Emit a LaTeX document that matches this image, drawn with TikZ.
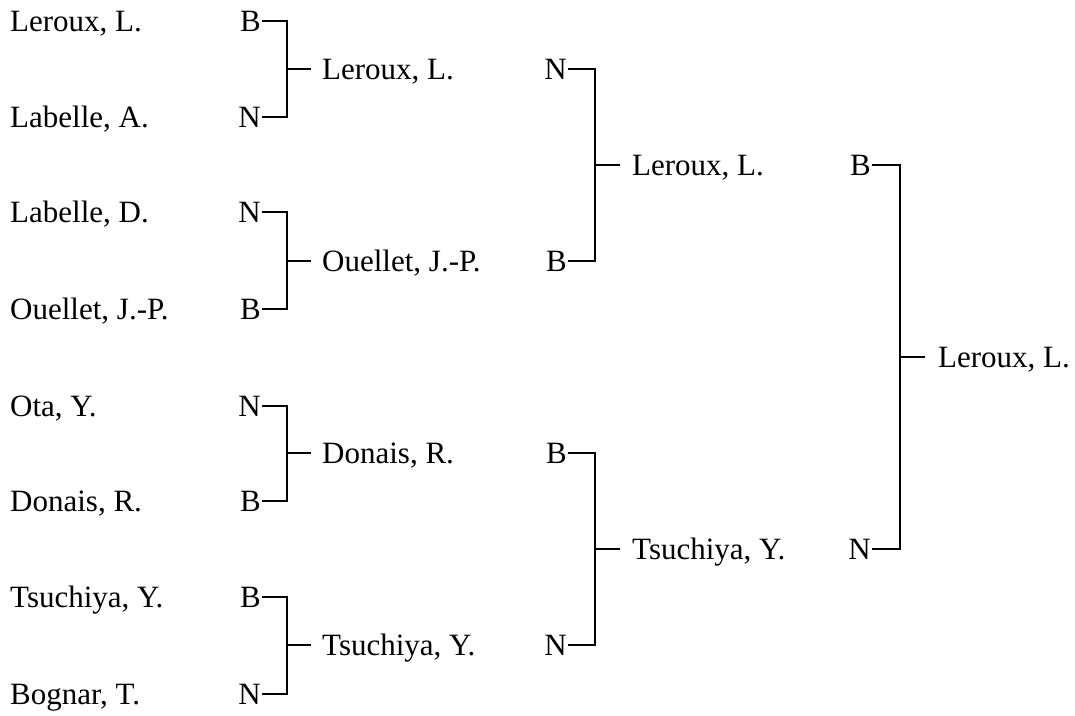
\documentclass[tikz,border=0pt]{standalone}
\usepackage{fontspec}
\setmainfont{LiberationSerif}[Extension=.ttf, UprightFont=*-Regular, BoldFont=*-Bold]
\newcommand{\bfs}{\fontsize{31}{37}\selectfont}
\begin{document}
\begin{tikzpicture}[x=1pt,y=-1pt,
  nm/.style={anchor=base west, inner sep=0pt, font=\bfs},
  lt/.style={anchor=east, inner sep=0pt, font=\bfs},
  ln/.style={line width=1.6pt, line cap=butt, line join=miter}]
\useasboundingbox (0,0) rectangle (1075,715);
% Round 1
\node[nm] (n1) at (10,31.3) {Leroux, L.};
\node[nm] (n2) at (10,127.3) {Labelle, A.};
\node[nm] (n3) at (10,222.3) {Labelle, D.};
\node[nm] (n4) at (10,319.3) {Ouellet, J.-P.};
\node[nm] (n5) at (10,416.3) {Ota, Y.};
\node[nm] (n6) at (10,511.3) {Donais, R.};
\node[nm] (n7) at (10,607.3) {Tsuchiya, Y.};
\node[nm] (n8) at (10,704.3) {Bognar, T.};
\node[lt] (a1) at (261,21) {B};
\node[lt] (a2) at (261,117) {N};
\node[lt] (a3) at (261,212) {N};
\node[lt] (a4) at (261,309) {B};
\node[lt] (a5) at (261,406) {N};
\node[lt] (a6) at (261,501) {B};
\node[lt] (a7) at (261,597) {B};
\node[lt] (a8) at (261,694) {N};
\coordinate (j1) at (287,69);
\coordinate (j2) at (287,261);
\coordinate (j3) at (287,453);
\coordinate (j4) at (287,645);
\coordinate (t1) at (311,69);
\coordinate (t2) at (311,261);
\coordinate (t3) at (311,453);
\coordinate (t4) at (311,645);
\draw[ln] ([xshift=1pt]a1.east) -| (j1) |- ([xshift=1pt]a2.east);
\draw[ln] ([xshift=1pt]a3.east) -| (j2) |- ([xshift=1pt]a4.east);
\draw[ln] ([xshift=1pt]a5.east) -| (j3) |- ([xshift=1pt]a6.east);
\draw[ln] ([xshift=1pt]a7.east) -| (j4) |- ([xshift=1pt]a8.east);
\draw[ln] (j1) -- (t1);
\draw[ln] (j2) -- (t2);
\draw[ln] (j3) -- (t3);
\draw[ln] (j4) -- (t4);
% Round 2
\node[nm] (m1) at (322,79.3) {Leroux, L.};
\node[nm] (m2) at (322,271.3) {Ouellet, J.-P.};
\node[nm] (m3) at (322,463.3) {Donais, R.};
\node[nm] (m4) at (322,655.3) {Tsuchiya, Y.};
\node[lt] (b1) at (567,69) {N};
\node[lt] (b2) at (567,261) {B};
\node[lt] (b3) at (567,453) {B};
\node[lt] (b4) at (567,645) {N};
\coordinate (k1) at (595,165);
\coordinate (k2) at (595,549);
\coordinate (u1) at (620,165);
\coordinate (u2) at (620,549);
\draw[ln] ([xshift=1pt]b1.east) -| (k1) |- ([xshift=1pt]b2.east);
\draw[ln] ([xshift=1pt]b3.east) -| (k2) |- ([xshift=1pt]b4.east);
\draw[ln] (k1) -- (u1);
\draw[ln] (k2) -- (u2);
% Round 3
\node[nm] (p1) at (632,175.3) {Leroux, L.};
\node[nm] (p2) at (632,559.3) {Tsuchiya, Y.};
\node[lt] (c1) at (871,165) {B};
\node[lt] (c2) at (871,549) {N};
\coordinate (f1) at (900,357);
\coordinate (v1) at (925,357);
\draw[ln] ([xshift=1pt]c1.east) -| (f1) |- ([xshift=1pt]c2.east);
\draw[ln] (f1) -- (v1);
% Final
\node[nm] (q1) at (938,367.3) {Leroux, L.};
\end{tikzpicture}
\end{document}
